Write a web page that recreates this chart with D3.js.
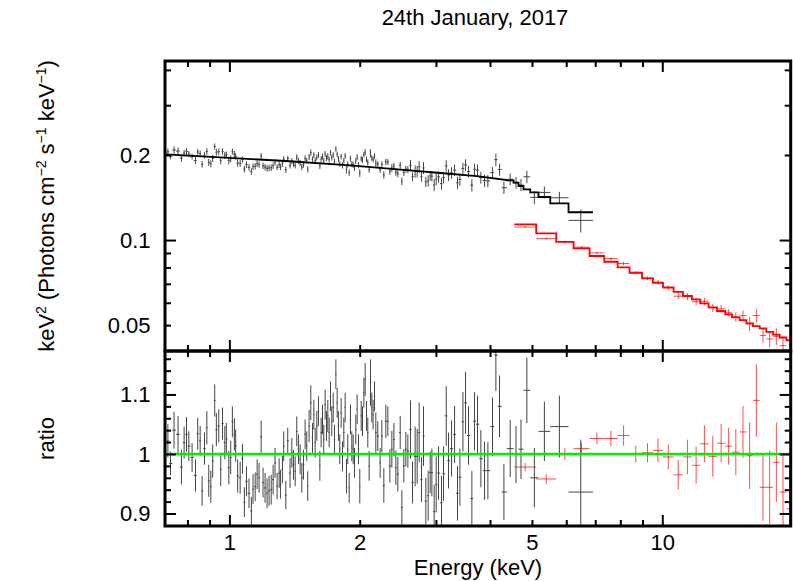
<!DOCTYPE html>
<html>
<head>
<meta charset="utf-8">
<script src="https://cdnjs.cloudflare.com/ajax/libs/d3/7.8.5/d3.min.js"></script>
<style>
body{margin:0;background:#fff}
svg{display:block;font-family:"Liberation Sans",Arial,Helvetica,sans-serif}
</style>
</head>
<body>
<script>

// ---- axis ranges and ticks
const xDomain = [0.71, 19.8];
const topDomain = [0.0405, 0.43];
const ratioDomain = [0.879, 1.173];

const xMajor = [1, 10];
const xMinor = [0.8, 0.9, 2, 3, 4, 5, 6, 7, 8, 9];
const xLabels = [1, 2, 5, 10];
const topMajor = [0.1];
const topMinor = [0.05, 0.06, 0.07, 0.08, 0.09, 0.2, 0.3, 0.4];
const topLabels = [0.05, 0.1, 0.2];
const ratioMajor = [0.9, 1, 1.1];
const ratioMinor = [0.92, 0.94, 0.96, 0.98, 1.02, 1.04, 1.06, 1.08, 1.12, 1.14, 1.16];
const ratioLabels = [0.9, 1, 1.1];

// ---- black spectrum, fine bins (energy keV, data/model, error)
const blackE = [
0.721,0.731,0.745,0.761,0.775,0.786,0.796,0.806,0.820,0.835,
0.845,0.856,0.865,0.876,0.887,0.896,0.906,0.915,0.925,0.933,
0.945,0.955,0.964,0.976,0.984,0.997,1.007,1.016,1.027,1.034,
1.045,1.059,1.072,1.083,1.095,1.110,1.124,1.134,1.147,1.159,
1.171,1.184,1.196,1.209,1.222,1.235,1.249,1.262,1.275,1.289,
1.303,1.312,1.326,1.335,1.350,1.364,
1.381,1.394,1.406,1.419,1.431,1.444,1.457,1.470,1.483,
1.496,1.509,1.517,1.528,1.542,1.556,1.567,1.578,1.592,1.606,
1.618,1.629,1.641,1.652,1.664,1.676,1.688,1.700,1.712,1.724,
1.737,1.749,1.762,1.774,1.786,1.799,1.812,1.825,1.838,1.851,
1.864,1.877,1.891,1.904,1.918,1.932,1.945,1.959,1.973,1.987,
2.001,2.016,2.030,2.045,2.059,2.074,2.088,2.103,2.118,2.133,
2.148,2.164,2.179,2.202,2.230,2.250,2.274,2.298,2.323,2.348,
2.373,2.399,2.424,2.450,2.481,2.503,2.529,2.556,2.584,
2.621,2.649,2.686,2.715,2.744,2.778,2.808,2.843,2.879,2.910,
2.936,2.972,3.004,3.042,3.090,3.124,3.169,3.208,3.260,3.313,
3.365,3.408,3.463,3.512,3.568,3.632,3.684,3.743,3.810,3.886,
3.955,4.054,4.127,4.208,4.307
];
const blackRatio = [
1.022,0.984,1.040,1.033,0.978,1.019,1.033,1.013,0.994,0.964,
1.034,1.022,0.938,1.009,1.044,0.955,0.945,0.988,1.090,1.041,
1.047,0.974,1.051,1.019,1.025,0.977,0.994,1.054,1.033,1.014,
0.963,0.960,0.992,0.919,0.954,0.934,0.904,0.941,0.945,0.966,
0.960,1.029,0.952,0.943,0.934,0.938,0.940,0.957,0.985,0.946,
0.968,0.949,0.974,1.013,0.931,1.022,
0.968,1.002,0.982,0.971,1.038,1.008,0.991,0.960,0.982,
1.033,1.013,0.946,1.047,1.086,1.027,1.066,1.019,1.047,1.072,
0.980,1.036,1.058,1.024,1.083,1.047,1.064,1.036,1.097,1.055,
1.078,1.024,1.134,1.086,1.047,1.008,1.069,0.996,1.036,1.078,
0.963,1.008,0.943,1.058,1.013,1.008,0.985,1.041,1.075,1.008,
0.946,1.064,1.055,1.103,1.125,1.064,1.036,0.980,1.120,1.078,
1.066,1.097,1.036,1.030,0.985,1.030,0.947,1.055,1.055,0.980,
1.008,1.024,0.977,0.966,1.036,0.910,0.980,1.008,1.005,
1.041,0.952,0.996,0.996,1.036,0.957,1.030,0.921,0.930,0.969,
0.969,0.903,0.949,0.968,0.918,0.967,1.064,0.989,1.009,1.033,
0.934,0.961,1.054,1.086,1.031,0.925,1.055,1.050,0.992,0.972,
0.972,1.046,1.166,1.080,0.936
];
const blackErr = [
0.028,0.020,0.031,0.031,0.029,0.027,0.029,0.025,0.024,0.027,
0.027,0.025,0.025,0.027,0.028,0.027,0.027,0.028,0.027,0.028,
0.028,0.028,0.027,0.028,0.027,0.028,0.028,0.026,0.027,0.027,
0.028,0.027,0.025,0.025,0.025,0.025,0.024,0.025,0.024,0.025,
0.025,0.027,0.025,0.025,0.025,0.025,0.025,0.025,0.025,0.022,
0.025,0.024,0.023,0.025,0.024,0.022,
0.025,0.025,0.025,0.025,0.025,0.025,0.025,0.025,0.025,0.025,
0.025,0.025,0.027,0.029,0.025,0.025,0.025,0.025,0.025,0.025,
0.025,0.025,0.025,0.025,0.025,0.027,0.025,0.025,0.025,0.025,
0.025,0.025,0.025,0.025,0.025,0.025,0.025,0.025,0.025,0.029,
0.025,0.025,0.025,0.025,0.025,0.025,0.025,0.025,0.025,0.029,
0.025,0.025,0.025,0.028,0.025,0.025,0.025,0.039,0.025,0.025,
0.025,0.034,0.025,0.025,0.027,0.029,0.028,0.025,0.028,0.031,
0.028,0.029,0.029,0.028,0.029,0.028,0.029,0.028,
0.049,0.035,0.050,0.046,0.050,0.038,0.050,0.039,0.042,0.035,
0.040,0.045,0.047,0.045,0.045,0.046,0.050,0.047,0.047,0.048,
0.046,0.048,0.050,0.052,0.049,0.046,0.049,0.048,0.048,0.049,
0.048,0.049,0.060,0.052,0.047
];

// black model (keV, keV^2 flux)
const blackModelE = [0.71, 1.0, 1.35, 1.9, 2.65, 3.12, 3.73, 4.376];
const blackModelV = [0.201, 0.1953, 0.1904, 0.1836, 0.176, 0.1723, 0.1684, 0.1631];

// black spectrum, wide bins above 4.4 keV
const blackWideEdges = [4.376, 4.532, 4.654, 4.780, 4.954, 5.177, 5.511, 6.073, 6.916];
const blackWideModel = [0.1626, 0.1596, 0.1553, 0.1512, 0.1475, 0.1420, 0.1349, 0.1254];
const blackWideRatio = [1.009, 0.999, 1.008, 1.107, 0.960, 1.038, 1.046, 0.936];
const blackWideErr = [0.048, 0.048, 0.050, 0.055, 0.050, 0.050, 0.052, 0.088];

// red spectrum
const redEdges = [4.550, 5.114, 5.689, 6.237, 6.792, 7.345, 7.885, 8.403, 8.978, 9.517,
  10.04, 10.62, 11.16, 11.71, 12.24, 12.79, 13.38, 13.98, 14.49, 15.09,
  15.64, 16.20, 16.79, 17.39, 18.03, 18.67, 19.35, 20.05];
const redModel = [0.1137, 0.1056, 0.0986, 0.0935, 0.0878, 0.0838, 0.0801, 0.0766, 0.0732, 0.0706,
  0.0680, 0.0656, 0.0634, 0.0617, 0.0597, 0.0578, 0.0561, 0.0546, 0.0533, 0.0521,
  0.0507, 0.0496, 0.0487, 0.0473, 0.0463, 0.0452, 0.0442];
const redRatio = [0.978, 0.958, 1.000, 1.009, 1.026, 1.026, 1.031, 1.000, 1.002, 1.006,
  0.995, 0.965, 0.995, 0.981, 1.017, 0.996, 1.018, 1.013, 1.003, 1.037,
  0.997, 1.090, 0.944, 0.944, 0.986, 0.936, 0.908];
const redErr = [0.007, 0.008, 0.010, 0.010, 0.010, 0.013, 0.017, 0.014, 0.016, 0.020,
  0.021, 0.025, 0.029, 0.031, 0.031, 0.034, 0.032, 0.031, 0.039, 0.044,
  0.056, 0.061, 0.056, 0.062, 0.067, 0.064, 0.067];

const W = 793, H = 581;
const box = {left: 165, right: 790.7, top: 61, mid: 351, bottom: 526};

const x = d3.scaleLog().domain(xDomain).range([box.left, box.right]);
const yTop = d3.scaleLog().domain(topDomain).range([box.mid, box.top]);
const yRat = d3.scaleLinear().domain(ratioDomain).range([box.bottom, box.mid]);
const blackModel = d3.scaleLog().domain(blackModelE).range(blackModelV);

/**
  fine bins: edges half way (in log) between neighbouring channels
*/
const fineBins = blackE.map((e, i) => {
  const prev = blackE[i - 1], next = blackE[i + 1];
  const lo = prev ? Math.sqrt(prev * e) : e * e / Math.sqrt(e * next);
  const hi = next ? Math.sqrt(e * next) : blackWideEdges[0];
  return {e: e, lo: lo, hi: hi, m: blackModel(e), r: blackRatio[i], dr: blackErr[i]};
});

function wideBins(edges, model, ratio, err){
  return model.map((m, i) => ({
    lo: edges[i], hi: edges[i + 1], e: Math.sqrt(edges[i] * edges[i + 1]),
    m: m, r: ratio[i], dr: err[i]
  }));
}
const blackBins = fineBins.concat(wideBins(blackWideEdges, blackWideModel, blackWideRatio, blackWideErr));
const redBins = wideBins(redEdges, redModel, redRatio, redErr);

const svg = d3.select("body").append("svg").attr("width", W).attr("height", H);
const defs = svg.append("defs");
defs.append("clipPath").attr("id", "clipTop").append("rect")
  .attr("x", box.left).attr("y", box.top)
  .attr("width", box.right - box.left).attr("height", box.mid - box.top);
defs.append("clipPath").attr("id", "clipRat").append("rect")
  .attr("x", box.left).attr("y", box.mid)
  .attr("width", box.right - box.left).attr("height", box.bottom - box.mid);

/**
  draw error crosses: horizontal = bin width, vertical = error
*/
function crosses(g, bins, y, val, err, color, opacity){
  const c = g.append("g").attr("stroke", color).attr("stroke-width", 1)
    .attr("stroke-opacity", opacity)
    .selectAll("g").data(bins).join("g");
  c.append("line")
    .attr("x1", d => x(d.lo)).attr("x2", d => x(d.hi))
    .attr("y1", d => y(val(d))).attr("y2", d => y(val(d)));
  c.append("line")
    .attr("x1", d => x(d.e)).attr("x2", d => x(d.e))
    .attr("y1", d => y(val(d) - err(d))).attr("y2", d => y(val(d) + err(d)));
}

// top panel
const topPanel = svg.append("g").attr("clip-path", "url(#clipTop)");
crosses(topPanel, blackBins, yTop, d => d.m * d.r, d => d.m * d.dr, "#444", 1);
crosses(topPanel, redBins, yTop, d => d.m * d.r, d => d.m * d.dr, "#ff0000", 0.7);

const smooth = d3.line().x(d => x(d[0])).y(d => yTop(d[1]));
const steps = d3.line().x(d => x(d[0])).y(d => yTop(d[1])).curve(d3.curveStepAfter);
function stepPoints(edges, model){
  return edges.map((e, i) => [e, model[Math.min(i, model.length - 1)]]);
}
topPanel.append("path")
  .attr("d", smooth(blackModelE.map((e, i) => [e, blackModelV[i]])) +
             steps(stepPoints(blackWideEdges, blackWideModel)).replace("M", "L"))
  .attr("fill", "none").attr("stroke", "#000").attr("stroke-width", 1.8);
topPanel.append("path")
  .attr("d", steps(stepPoints(redEdges, redModel)))
  .attr("fill", "none").attr("stroke", "#ff0000").attr("stroke-width", 1.8);

// ratio panel
const ratPanel = svg.append("g").attr("clip-path", "url(#clipRat)");
crosses(ratPanel, blackBins, yRat, d => d.r, d => d.dr, "#444", 1);
crosses(ratPanel, redBins, yRat, d => d.r, d => d.dr, "#ff0000", 0.7);
ratPanel.append("line")
  .attr("x1", box.left).attr("x2", box.right)
  .attr("y1", yRat(1)).attr("y2", yRat(1))
  .attr("stroke", "#00f000").attr("stroke-width", 2.6);

// ticks
function ticks(axis, at, values, size){
  const g = svg.append("g").attr("transform", at)
    .call(axis.tickValues(values).tickSize(size).tickFormat(""));
  g.select(".domain").remove();
  g.selectAll(".tick line").attr("stroke", "#000").attr("stroke-width", 2);
}
function tickSet(axisFn, scale, at, major, minor){
  ticks(axisFn(scale), at, major, 11);
  ticks(axisFn(scale), at, minor, 6);
}
tickSet(d3.axisBottom, x, `translate(0,${box.top})`, xMajor, xMinor);
tickSet(d3.axisTop, x, `translate(0,${box.mid})`, xMajor, xMinor);
tickSet(d3.axisBottom, x, `translate(0,${box.mid})`, xMajor, xMinor);
tickSet(d3.axisTop, x, `translate(0,${box.bottom})`, xMajor, xMinor);
tickSet(d3.axisRight, yTop, `translate(${box.left},0)`, topMajor, topMinor);
tickSet(d3.axisLeft, yTop, `translate(${box.right},0)`, topMajor, topMinor);
tickSet(d3.axisRight, yRat, `translate(${box.left},0)`, ratioMajor, ratioMinor);
tickSet(d3.axisLeft, yRat, `translate(${box.right},0)`, ratioMajor, ratioMinor);

// frames
[[box.top, box.mid], [box.mid, box.bottom]].forEach(p => {
  svg.append("rect")
    .attr("x", box.left).attr("y", p[0])
    .attr("width", box.right - box.left).attr("height", p[1] - p[0])
    .attr("fill", "none").attr("stroke", "#000").attr("stroke-width", 3);
});

// tick labels
function labels(axis, at, values, pad){
  const g = svg.append("g").attr("transform", at)
    .call(axis.tickValues(values).tickSize(0).tickPadding(pad).tickFormat(d => String(d)));
  g.select(".domain").remove();
  g.attr("font-size", 22).attr("font-family", null);
  g.selectAll("text").attr("fill", "#000");
}
labels(d3.axisLeft(yTop), `translate(${box.left},0)`, topLabels, 14.5);
labels(d3.axisLeft(yRat), `translate(${box.left},0)`, ratioLabels, 14.5);
labels(d3.axisBottom(x), `translate(0,${box.bottom})`, xLabels, 8.4);

// titles
svg.append("text").attr("x", 475).attr("y", 25).attr("text-anchor", "middle")
  .attr("font-size", 22).text("24th January, 2017");
svg.append("text").attr("x", 478).attr("y", 575).attr("text-anchor", "middle")
  .attr("font-size", 22).text("Energy (keV)");
svg.append("text")
  .attr("transform", `translate(54,${(box.bottom + box.mid) / 2}) rotate(-90)`)
  .attr("text-anchor", "middle").attr("font-size", 22)
  .text("ratio");

const yTitle = svg.append("text")
  .attr("transform", `translate(54,${(box.top + box.mid) / 2}) rotate(-90)`)
  .attr("text-anchor", "middle").attr("font-size", 22);
let raised = false;
[["keV", 0], ["2", 1], [" (Photons cm", 0], ["\u22122", 1], [" s", 0], ["\u22121", 1],
 [" keV", 0], ["\u22121", 1], [")", 0]].forEach(p => {
  const t = yTitle.append("tspan").text(p[0]);
  if (p[1]) { t.attr("font-size", 14).attr("dy", raised ? 0 : -8); raised = true; }
  else { t.attr("dy", raised ? 8 : 0); raised = false; }
});

</script>
</body>
</html>
